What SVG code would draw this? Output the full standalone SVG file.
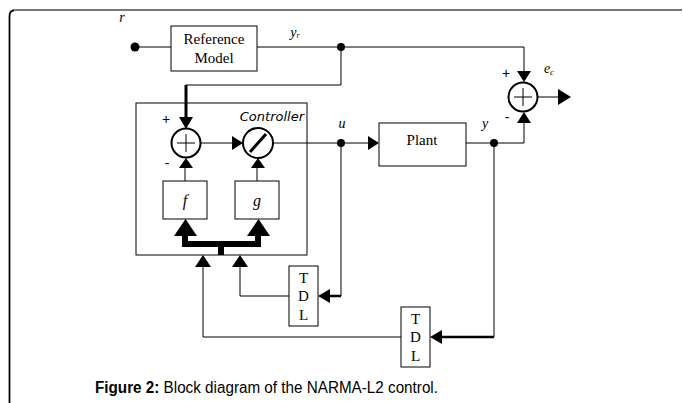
<svg xmlns="http://www.w3.org/2000/svg" width="683" height="403" viewBox="0 0 683 403">
<style>
.ln{fill:none;stroke:#000;stroke-width:1}
.bx{fill:#fff;stroke:#000;stroke-width:1}
.ah{fill:#000;stroke:none}
.serif{font-family:"Liberation Serif","Times New Roman",serif;fill:#000}
.it{font-family:"Liberation Serif","Times New Roman",serif;font-style:italic;fill:#000}
.mono{font-family:"Liberation Serif","DejaVu Serif",serif;fill:#000;font-size:15px}
.sans{font-family:"Liberation Sans",Arial,sans-serif;fill:#000}
</style>
<rect x="0" y="0" width="683" height="403" fill="#fff"/>
<g id="frame">
<path d="M682,10 H15 Q9.5,10 9.5,16 V403" fill="none" stroke="#777" stroke-width="2"/>
<path d="M9.5,403 V16 Q9.5,11 14,10.5" fill="none" stroke="#000" stroke-width="1.3"/>
</g>
<g id="connectors">
<path class="ln" d="M135,47 H171"/>
<path class="ln" d="M257,47 H524 V72"/>
<path class="ln" d="M341,47 V85 H186"/>
<path d="M186,85 V118" fill="none" stroke="#000" stroke-width="3"/>
<path class="ln" d="M200,143 H233"/>
<path class="ln" d="M273,143 H368"/>
<path class="ln" d="M466,143 H524 V122"/>
<path class="ln" d="M538,97 H559"/>
<path class="ln" d="M185,181 V167"/>
<path class="ln" d="M257,181 V167"/>
<path d="M185,235 V244 H258 V235 M221,243 V255" fill="none" stroke="#000" stroke-width="6"/>
<path class="ln" d="M341,143 V296 H330"/>
<path d="M341,296 H330" fill="none" stroke="#000" stroke-width="2.5"/>
<path class="ln" d="M289,296 H240 V267"/>
<path class="ln" d="M494,143 V337 H442"/>
<path d="M494,337 H442" fill="none" stroke="#000" stroke-width="2.5"/>
<path class="ln" d="M401,337 H203 V267"/>
<circle cx="135" cy="47" r="4.5" class="ah"/>
<circle cx="341" cy="47" r="4" class="ah"/>
<circle cx="341" cy="143" r="4" class="ah"/>
<circle cx="494" cy="143" r="4" class="ah"/>
<polygon class="ah" points="179,117 193,117 186,129"/>
<polygon class="ah" points="179,168 193,168 186,158"/>
<polygon class="ah" points="251,168 265,168 258,158"/>
<polygon class="ah" points="232,136 232,150 243,143"/>
<polygon class="ah" points="368,136 368,150 379,143"/>
<polygon class="ah" points="517,71 531,71 524,82"/>
<polygon class="ah" points="517,123 531,123 524,112"/>
<polygon class="ah" points="558,89 558,105 571,97"/>
<polygon class="ah" points="174,236 197,236 185.5,219"/>
<polygon class="ah" points="247,236 270,236 258.5,219"/>
<polygon class="ah" points="195,267 211,267 203,255"/>
<polygon class="ah" points="232,267 248,267 240,255"/>
<polygon class="ah" points="318,296 330,289 330,303"/>
<polygon class="ah" points="430,337 442,330 442,344"/>
</g>
<g id="ref-model">
<rect class="bx" x="171" y="26" width="86" height="45"/>
<text class="serif" x="214" y="44" font-size="15" text-anchor="middle">Reference</text>
<text class="serif" x="214" y="63" font-size="15" text-anchor="middle">Model</text>
</g>
<g id="controller">
<rect class="ln" x="136" y="103" width="171" height="152"/>
<text x="304" y="121" font-family="'DejaVu Sans',Verdana,sans-serif" font-style="italic" font-size="13" text-anchor="end" fill="#000">Controller</text>
</g>
<g id="sum1">
<circle cx="186" cy="143" r="14.5" fill="#fff" stroke="#000" stroke-width="2"/>
<path d="M186,134 V152 M177,143 H195" stroke="#000" stroke-width="1" fill="none"/>
<text class="sans" x="166" y="124" font-size="14" text-anchor="middle">+</text>
<text class="sans" x="167" y="168" font-size="14" text-anchor="middle">-</text>
</g>
<g id="divider">
<circle cx="258" cy="143" r="15" fill="#fff" stroke="#000" stroke-width="2"/>
<path d="M250,152 L266,134" stroke="#000" stroke-width="3" fill="none"/>
</g>
<g id="f">
<rect class="bx" x="163" y="181" width="44" height="38"/>
<text class="it" x="185" y="206" font-size="16" text-anchor="middle">f</text>
</g>
<g id="g">
<rect class="bx" x="235" y="181" width="44" height="38"/>
<text class="it" x="257" y="206" font-size="16" text-anchor="middle">g</text>
</g>
<g id="plant">
<rect class="bx" x="379" y="123" width="87" height="43"/>
<text class="serif" x="422" y="145" font-size="15" text-anchor="middle">Plant</text>
</g>
<g id="sum2">
<circle cx="523" cy="97" r="14.5" fill="#fff" stroke="#000" stroke-width="2"/>
<path d="M523,88 V106 M514,97 H532" stroke="#000" stroke-width="1" fill="none"/>
<text class="sans" x="506" y="78" font-size="14" text-anchor="middle">+</text>
<text class="sans" x="507" y="122" font-size="14" text-anchor="middle">-</text>
</g>
<g id="tdl1">
<rect class="bx" x="289" y="266" width="29" height="60"/>
<text class="mono" x="303.5" y="283" text-anchor="middle">T</text>
<text class="mono" x="303.5" y="301" text-anchor="middle">D</text>
<text class="mono" x="303.5" y="320" text-anchor="middle">L</text>
</g>
<g id="tdl2">
<rect class="bx" x="401" y="307" width="29" height="60"/>
<text class="mono" x="415.5" y="324" text-anchor="middle">T</text>
<text class="mono" x="415.5" y="342" text-anchor="middle">D</text>
<text class="mono" x="415.5" y="361" text-anchor="middle">L</text>
</g>
<g id="labels">
<text class="it" x="122" y="22" font-size="14" text-anchor="middle">r</text>
<text class="it" x="295" y="37" font-size="14" text-anchor="middle">y<tspan font-size="8" dy="1">r</tspan></text>
<text class="it" x="342" y="128" font-size="14" text-anchor="middle">u</text>
<text class="it" x="485" y="128" font-size="14" text-anchor="middle">y</text>
<text class="it" x="549" y="73" font-size="14" text-anchor="middle">e<tspan font-size="9" dy="2">c</tspan></text>
</g>
<g id="caption">
<text class="sans" x="95" y="393" font-size="16" textLength="343" lengthAdjust="spacingAndGlyphs"><tspan font-weight="bold">Figure 2:</tspan> Block diagram of the NARMA-L2 control.</text>
</g>
</svg>
